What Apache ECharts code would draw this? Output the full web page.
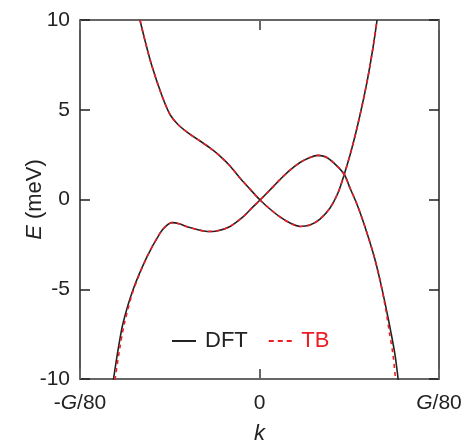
<!DOCTYPE html>
<html><head><meta charset="utf-8">
<script src="https://cdn.jsdelivr.net/npm/echarts@6/dist/echarts.min.js"></script>
<style>html,body{margin:0;padding:0;background:#fff}#c{width:465px;height:441px}</style>
</head><body><div id="c"></div>
<script>
// k in units of G/80, E in meV
var xTicks = [-1, 0, 1];
var xTickLabels = ['-{i|G}/80', '0', '{i|G}/80'];
var yTicks = [-10, -5, 0, 5, 10];

var dftBand1K = [-0.666,-0.638,-0.601,-0.545,-0.499,-0.454,-0.390,-0.331,-0.276,-0.220,-0.164,-0.109,-0.053,0.003,0.058,0.114,0.170,0.226,0.281,0.337,0.393,0.437,0.471,0.515,0.560,0.599,0.632,0.655];
var dftBand1E = [10.00,8.86,7.49,5.82,4.74,4.18,3.65,3.26,2.87,2.42,1.87,1.20,0.58,-0.03,-0.53,-0.97,-1.31,-1.50,-1.42,-1.09,-0.47,0.36,1.36,2.87,4.71,6.55,8.44,10.00];
var dftBand2K = [-0.814,-0.788,-0.760,-0.705,-0.627,-0.554,-0.521,-0.487,-0.443,-0.404,-0.348,-0.292,-0.237,-0.164,-0.092,-0.042,0.003,0.058,0.114,0.170,0.226,0.281,0.326,0.370,0.415,0.471,0.504,0.538,0.571,0.604,0.638,0.671,0.705,0.733,0.755,0.773];
var dftBand2E = [-10.05,-8.38,-6.88,-5.04,-3.20,-1.87,-1.48,-1.29,-1.37,-1.52,-1.67,-1.78,-1.75,-1.50,-0.97,-0.47,-0.03,0.53,1.11,1.64,2.06,2.34,2.46,2.37,2.03,1.42,0.64,-0.14,-1.03,-2.03,-3.15,-4.48,-6.04,-7.44,-8.66,-10.06];

var tbBand1K = [-0.666,-0.638,-0.601,-0.545,-0.499,-0.454,-0.390,-0.331,-0.276,-0.220,-0.164,-0.109,-0.053,0.003,0.058,0.114,0.170,0.226,0.281,0.337,0.393,0.437,0.471,0.515,0.560,0.599,0.632,0.655];
var tbBand1E = [10.00,8.86,7.49,5.82,4.74,4.18,3.65,3.26,2.87,2.42,1.87,1.20,0.58,-0.03,-0.53,-0.97,-1.31,-1.50,-1.42,-1.09,-0.47,0.36,1.36,2.87,4.71,6.55,8.44,10.00];
var tbBand2K = [-0.805,-0.780,-0.752,-0.702,-0.627,-0.554,-0.521,-0.487,-0.443,-0.404,-0.348,-0.292,-0.237,-0.164,-0.092,-0.042,0.003,0.058,0.114,0.170,0.226,0.281,0.326,0.370,0.415,0.471,0.504,0.538,0.571,0.604,0.638,0.671,0.702,0.724,0.744,0.758];
var tbBand2E = [-10.05,-8.38,-6.88,-5.04,-3.20,-1.87,-1.48,-1.29,-1.37,-1.52,-1.67,-1.78,-1.75,-1.50,-0.97,-0.47,-0.03,0.53,1.11,1.64,2.06,2.34,2.46,2.37,2.03,1.42,0.64,-0.14,-1.03,-2.03,-3.15,-4.48,-6.04,-7.44,-8.66,-10.06];

function zip(a, b) { return a.map(function (v, i) { return [v, b[i]]; }); }

var RED = '#ee1c25';
var INK = '#222';
var FONT = 'Liberation Sans';
var chart = echarts.init(document.getElementById('c'));

function lineSeries(name, k, e, color, type, w) {
  return {
    name: name, type: 'line', data: zip(k, e), smooth: 0.3, symbol: 'none',
    lineStyle: { color: color, width: w, type: type }, itemStyle: { color: color },
    clip: true, z: type === 'solid' ? 2 : 3
  };
}

var axisLbl = function (v) { var i = xTicks.indexOf(v); return i >= 0 ? xTickLabels[i] : ''; };
var italicRich = function (size) { return { i: { fontStyle: 'italic', fontFamily: FONT, fontSize: size, color: INK } }; };

chart.setOption({
  animation: false,
  grid: { left: 80, right: 26, top: 20, bottom: 62, containLabel: false, outerBoundsMode: 'none' },
  legend: {
    left: 167, top: 325, itemWidth: 24, itemHeight: 2, itemGap: 21,
    textStyle: { fontFamily: FONT, fontSize: 22, padding: [0, 0, 0, 4] },
    data: [
      { name: 'DFT', icon: 'path://M0,0h24v2h-24z', textStyle: { color: INK } },
      { name: 'TB', icon: 'path://M0,0h5v2h-5zM9,0h5v2h-5zM18,0h5v2h-5z', textStyle: { color: RED } }
    ]
  },
  xAxis: [
    {
      type: 'value', min: -1, max: 1, interval: 1, position: 'bottom',
      axisLine: { onZero: false, lineStyle: { color: '#666', width: 2 } },
      axisTick: { inside: true, length: 10, lineStyle: { color: '#666', width: 2 } },
      splitLine: { show: false },
      axisLabel: { margin: 14, fontFamily: FONT, fontSize: 21, color: INK, formatter: axisLbl, rich: italicRich(21) },
      name: '{i|k}', nameLocation: 'middle', nameGap: 44,
      nameTextStyle: { fontFamily: FONT, fontSize: 22, color: INK, rich: italicRich(22) }
    },
    {
      type: 'value', min: -1, max: 1, interval: 1, position: 'top',
      axisLine: { onZero: false, lineStyle: { color: '#666', width: 2 } },
      axisTick: { inside: true, length: 10, lineStyle: { color: '#666', width: 2 } },
      axisLabel: { show: false }, splitLine: { show: false }
    }
  ],
  yAxis: [
    {
      type: 'value', min: -10, max: 10, interval: 5, position: 'left',
      axisLine: { onZero: false, lineStyle: { color: INK, width: 1.5 } },
      axisTick: { inside: true, length: 10, lineStyle: { color: INK, width: 1.5 } },
      splitLine: { show: false },
      axisLabel: { margin: 10, fontFamily: FONT, fontSize: 21, color: INK },
      name: '{i|E} (meV)', nameLocation: 'middle', nameGap: 34, nameRotate: 90, nameMoveOverlap: false,
      nameTextStyle: { fontFamily: FONT, fontSize: 22, color: INK, rich: italicRich(22) }
    },
    {
      type: 'value', min: -10, max: 10, interval: 5, position: 'right',
      axisLine: { onZero: false, lineStyle: { color: INK, width: 1.5 } },
      axisTick: { inside: true, length: 10, lineStyle: { color: INK, width: 1.5 } },
      axisLabel: { show: false }, splitLine: { show: false }
    }
  ],
  series: [
    lineSeries('DFT', dftBand1K, dftBand1E, INK, 'solid', 1.6),
    lineSeries('DFT', dftBand2K, dftBand2E, INK, 'solid', 1.6),
    lineSeries('TB', tbBand1K, tbBand1E, RED, [4, 4], 1.6),
    lineSeries('TB', tbBand2K, tbBand2E, RED, [4, 4], 1.6)
  ]
});
</script></body></html>
